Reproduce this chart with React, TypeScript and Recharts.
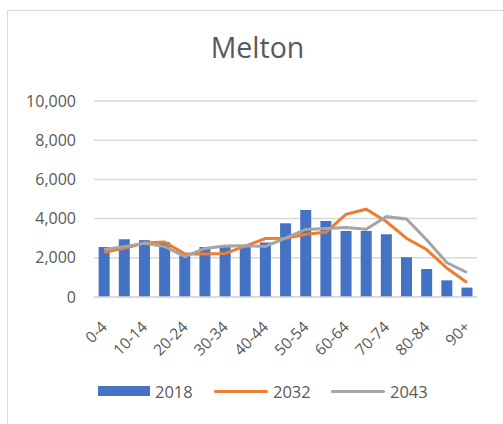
import React from 'react';
import { ComposedChart, Bar, Line, XAxis, YAxis, CartesianGrid, Legend } from 'recharts';

const categories = ['0-4','5-9','10-14','15-19','20-24','25-29','30-34','35-39','40-44','45-49','50-54','55-59','60-64','65-69','70-74','75-79','80-84','85-89','90+'];
const values2018 = [2550, 2950, 2900, 2800, 2100, 2550, 2550, 2650, 2780, 3760, 4440, 3880, 3370, 3370, 3200, 2030, 1430, 850, 480];
const values2032 = [2280, 2480, 2750, 2800, 2200, 2200, 2220, 2600, 2980, 3000, 3200, 3300, 4220, 4480, 3850, 3000, 2420, 1480, 740];
const values2043 = [2430, 2570, 2740, 2580, 2060, 2480, 2600, 2620, 2580, 3000, 3450, 3500, 3540, 3460, 4100, 3980, 2920, 1760, 1250];
const yTicks = [0, 2000, 4000, 6000, 8000, 10000];
const seriesNames = ['2018', '2032', '2043'];
const seriesColors = ['#4472C4', '#ED7D31', '#A5A5A5'];

const data = categories.map((c, i) => ({
  cat: c,
  s2018: values2018[i],
  s2032: values2032[i],
  s2043: values2043[i],
}));

const FONT = '"Open Sans", "Liberation Sans", sans-serif';
const TEXT = '#595959';

const XTick = (props: any) => {
  const { x, y, payload } = props;
  return (
    <text
      x={0}
      y={0}
      transform={`translate(${x + 4},${y + 31}) rotate(-45)`}
      textAnchor="end"
      fill={TEXT}
      fontSize={15.5}
      fontFamily={FONT}
    >
      {payload.value}
    </text>
  );
};

const LegendContent = () => {
  const items = [
    { name: seriesNames[0], color: seriesColors[0], type: 'bar', x: 98 },
    { name: seriesNames[1], color: seriesColors[1], type: 'line', x: 214 },
    { name: seriesNames[2], color: seriesColors[2], type: 'line', x: 331 },
  ];
  return (
    <div style={{ position: 'relative', width: 503, height: 46 }}>
      {items.map((it) => (
        <div key={it.name} style={{ position: 'absolute', left: it.x, top: 0, height: 46, display: 'flex', alignItems: 'center' }}>
          {it.type === 'bar' ? (
            <div style={{ width: 52, height: 10, background: it.color }} />
          ) : (
            <div style={{ width: 54, height: 3, background: it.color, borderRadius: 2 }} />
          )}
          <span style={{ marginLeft: 5, fontFamily: FONT, fontSize: 16.5, color: TEXT }}>{it.name}</span>
        </div>
      ))}
    </div>
  );
};

export default function App() {
  return (
    <div style={{ position: 'absolute', left: 0, top: 0, width: 503, height: 424, overflow: 'hidden', background: '#fff' }}>
      <div style={{ position: 'absolute', left: 7, top: 10, width: 600, height: 600, borderLeft: '1px solid #d9d9d9', borderTop: '1px solid #d9d9d9' }} />
      <div style={{ position: 'absolute', left: 0, top: 28, width: 515, textAlign: 'center', fontFamily: FONT, fontSize: 28.5, color: TEXT }}>
        Melton
      </div>
      <div style={{ position: 'absolute', left: 0, top: 0 }}>
        <ComposedChart
          width={503}
          height={424}
          data={data}
          margin={{ top: 101, right: 26, bottom: 10, left: 0 }}
          barCategoryGap="23%"
        >
          <CartesianGrid vertical={false} stroke="#d9d9d9" strokeWidth={1.5} />
          <XAxis
            dataKey="cat"
            interval={1}
            tickLine={false}
            tickSize={0}
            tickMargin={0}
            axisLine={{ stroke: '#d9d9d9', strokeWidth: 1.5 }}
            height={71}
            tick={<XTick />}
          />
          <YAxis
            domain={[0, 10000]}
            ticks={yTicks}
            width={94}
            tickLine={false}
            axisLine={false}
            tickSize={0}
            tickMargin={18}
            tickFormatter={(v: number) => v.toLocaleString('en-US')}
            tick={{ fill: TEXT, fontSize: 16, fontFamily: FONT }}
          />
          <Legend verticalAlign="bottom" height={46} content={<LegendContent />} wrapperStyle={{ left: 0, width: 503 }} />
          <Bar dataKey="s2018" name={seriesNames[0]} fill={seriesColors[0]} isAnimationActive={false} />
          <Line dataKey="s2032" name={seriesNames[1]} stroke={seriesColors[1]} strokeWidth={3} dot={false} type="linear" isAnimationActive={false} />
          <Line dataKey="s2043" name={seriesNames[2]} stroke={seriesColors[2]} strokeWidth={3} dot={false} type="linear" isAnimationActive={false} />
        </ComposedChart>
      </div>
    </div>
  );
}
